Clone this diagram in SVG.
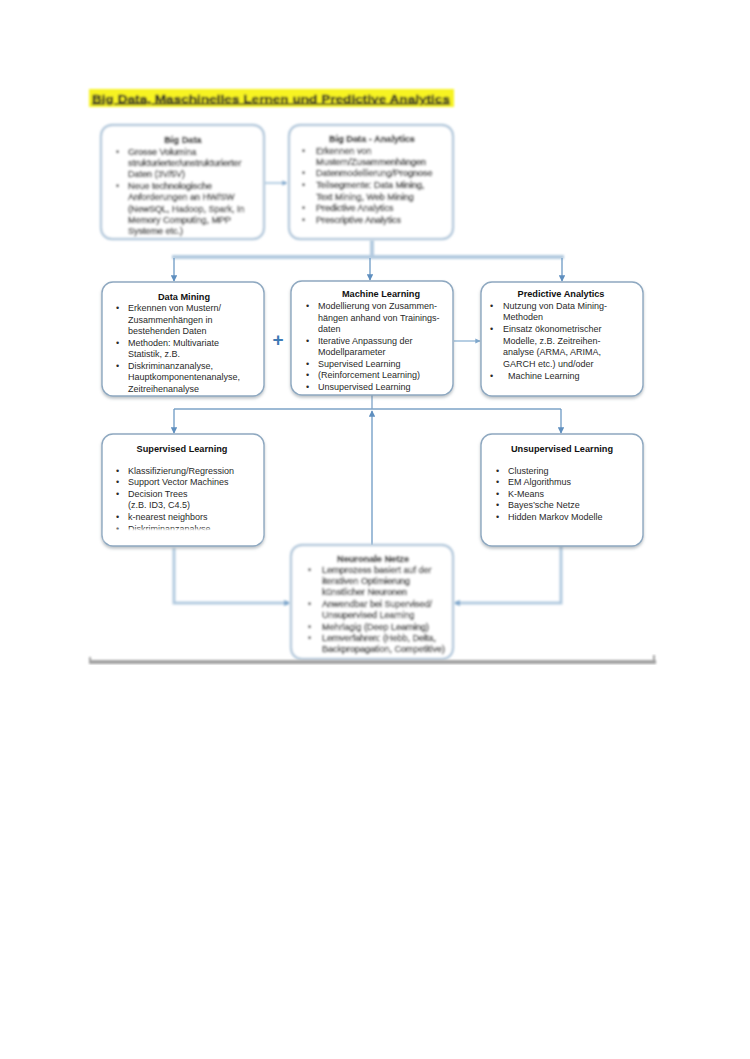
<svg xmlns="http://www.w3.org/2000/svg" width="750" height="1059" viewBox="0 0 750 1059">
<style>
.t{font-family:"Liberation Sans",Arial,sans-serif;font-size:9px;fill:#2a2a2a}
.h{font-family:"Liberation Sans",Arial,sans-serif;font-size:9.2px;font-weight:bold;fill:#111;text-anchor:middle}
.bb .t,.bb .h{fill:#333;stroke:#555;stroke-width:0.35}
.box{fill:#fff;stroke:#8ea8c0;stroke-width:1.4}
.boxl{fill:#fff;stroke:#b4c9dc;stroke-width:2.4}
.c{fill:none;stroke:#6d9ac4;stroke-width:1.3}
.cl{fill:none;stroke:#b3cbe0;stroke-width:3.5}
</style>
<defs>
<filter id="sh" x="-10%" y="-10%" width="120%" height="130%"><feDropShadow dx="0" dy="2" stdDeviation="1.5" flood-color="#6f7a85" flood-opacity="0.45"/></filter>
<filter id="bl" x="-10%" y="-10%" width="120%" height="120%"><feGaussianBlur stdDeviation="1.1"/></filter>
<marker id="a" viewBox="0 0 10 10" refX="9" refY="5" markerWidth="5" markerHeight="5" orient="auto"><path d="M0,0 L10,5 L0,10 z" fill="#5f8fbf"/></marker>
<marker id="al" viewBox="0 0 10 10" refX="9" refY="5" markerWidth="4" markerHeight="4" orient="auto"><path d="M0,0 L10,5 L0,10 z" fill="#7fa7cc"/></marker>
</defs>
<rect width="750" height="1059" fill="#fff"/>

<g id="title" filter="url(#bl)">
<rect x="89" y="89" width="365" height="18" fill="#f7f321"/>
<text x="92" y="102.5" textLength="358" lengthAdjust="spacingAndGlyphs" style="font-family:'Liberation Sans',Arial,sans-serif;font-size:11.5px;font-weight:bold;fill:#222;stroke:#333;stroke-width:0.3;text-decoration:underline">Big Data, Maschinelles Lernen und Predictive Analytics</text>
</g>

<g id="connectors">
<g filter="url(#bl)">
<path class="cl" d="M372,240 V257 M172,257 H564" style="stroke-width:4"/>
<path class="c" d="M264,183 H287" style="stroke:#8fb3d4" marker-end="url(#al)"/>
</g>
<path class="c" d="M174,258 V281" marker-end="url(#a)"/>
<path class="c" d="M370,258 V280" marker-end="url(#a)"/>
<path class="c" d="M562,258 V281" marker-end="url(#a)"/>
<path class="c" d="M454,341 H480" style="stroke:#8fb3d4" marker-end="url(#al)"/>
<path class="c" d="M372,395 V409 M174,409 H561" style="stroke:#7ea4c8"/>
<path class="c" d="M174,409 V433" marker-end="url(#a)"/>
<path class="c" d="M561,409 V433" marker-end="url(#a)"/>
<path class="c" d="M372,545 V411" marker-end="url(#a)"/>
<g filter="url(#bl)">
<path class="cl" d="M174,548 V603 H289" style="stroke-width:3"/>
<path class="cl" d="M561,546 V603 H455" style="stroke-width:3"/>
<path d="M284,600 L291,603 L284,606 z M460,600 L453,603 L460,606 z" fill="#7fa7cc"/>
</g>
<text x="278" y="346" style="font-family:'Liberation Sans',Arial,sans-serif;font-size:19px;font-weight:bold;fill:#3f7bb5;text-anchor:middle">+</text>
</g>

<g id="bigdata" class="bb" filter="url(#bl)">
<rect class="boxl" x="101" y="125" width="163" height="114" rx="11"/>
<text class="h" x="183" y="143">Big Data</text>
<text class="t" x="116" y="155">•</text><text class="t" x="128" y="155">Grosse Volumina</text>
<text class="t" x="128" y="166">strukturierter/unstrukturierter</text>
<text class="t" x="128" y="177">Daten (3V/5V)</text>
<text class="t" x="116" y="189">•</text><text class="t" x="128" y="189">Neue technologische</text>
<text class="t" x="128" y="200">Anforderungen an HW/SW</text>
<text class="t" x="128" y="212">(NewSQL, Hadoop, Spark, In</text>
<text class="t" x="128" y="223">Memory Computing, MPP</text>
<text class="t" x="128" y="234">Systeme etc.)</text>
</g>

<g id="bigdata-analytics" class="bb" filter="url(#bl)">
<rect class="boxl" x="289" y="125" width="164" height="114" rx="11"/>
<text class="h" x="372" y="142">Big Data - Analytics</text>
<text class="t" x="302" y="154">•</text><text class="t" x="316" y="154">Erkennen von</text>
<text class="t" x="316" y="165">Mustern/Zusammenhängen</text>
<text class="t" x="302" y="176">•</text><text class="t" x="316" y="176">Datenmodellierung/Prognose</text>
<text class="t" x="302" y="188">•</text><text class="t" x="316" y="188">Teilsegmente: Data Mining,</text>
<text class="t" x="316" y="200">Text Mining, Web Mining</text>
<text class="t" x="302" y="211">•</text><text class="t" x="316" y="211">Predictive Analytics</text>
<text class="t" x="302" y="223">•</text><text class="t" x="316" y="223">Prescriptive Analytics</text>
</g>

<g id="datamining">
<rect class="box" x="102" y="282" width="162" height="114" rx="11" filter="url(#sh)"/>
<text class="h" x="184" y="300">Data Mining</text>
<text class="t" x="116" y="311">•</text><text class="t" x="128" y="311">Erkennen von Mustern/</text>
<text class="t" x="128" y="323">Zusammenhängen  in</text>
<text class="t" x="128" y="334">bestehenden  Daten</text>
<text class="t" x="116" y="346">•</text><text class="t" x="128" y="346">Methoden:  Multivariate</text>
<text class="t" x="128" y="357">Statistik,  z.B.</text>
<text class="t" x="116" y="369">•</text><text class="t" x="128" y="369">Diskriminanzanalyse,</text>
<text class="t" x="128" y="380">Hauptkomponentenanalyse,</text>
<text class="t" x="128" y="392">Zeitreihenanalyse</text>
</g>

<g id="machinelearning">
<rect class="box" x="291" y="281" width="162" height="114" rx="11" filter="url(#sh)"/>
<text class="h" x="381" y="297">Machine  Learning</text>
<text class="t" x="306" y="309">•</text><text class="t" x="318" y="309">Modellierung  von  Zusammen-</text>
<text class="t" x="318" y="321">hängen anhand von Trainings-</text>
<text class="t" x="318" y="332">daten</text>
<text class="t" x="306" y="344">•</text><text class="t" x="318" y="344">Iterative  Anpassung  der</text>
<text class="t" x="318" y="355">Modellparameter</text>
<text class="t" x="306" y="367">•</text><text class="t" x="318" y="367">Supervised  Learning</text>
<text class="t" x="306" y="378">•</text><text class="t" x="318" y="378">(Reinforcement Learning)</text>
<text class="t" x="306" y="390">•</text><text class="t" x="318" y="390">Unsupervised  Learning</text>
</g>

<g id="predictive">
<rect class="box" x="481" y="282" width="162" height="114" rx="11" filter="url(#sh)"/>
<text class="h" x="561" y="297">Predictive Analytics</text>
<text class="t" x="490" y="309">•</text><text class="t" x="503" y="309">Nutzung von Data Mining-</text>
<text class="t" x="503" y="320">Methoden</text>
<text class="t" x="490" y="332">•</text><text class="t" x="503" y="332">Einsatz  ökonometrischer</text>
<text class="t" x="503" y="344">Modelle,  z.B. Zeitreihen-</text>
<text class="t" x="503" y="355">analyse (ARMA,  ARIMA,</text>
<text class="t" x="503" y="367">GARCH  etc.) und/oder</text>
<text class="t" x="490" y="379">•</text><text class="t" x="508" y="379">Machine Learning</text>
</g>

<g id="supervised">
<rect class="box" x="102" y="434" width="162" height="112" rx="11" filter="url(#sh)"/>
<text class="h" x="182" y="452">Supervised  Learning</text>
<text class="t" x="116" y="474">•</text><text class="t" x="128" y="474">Klassifizierung/Regression</text>
<text class="t" x="116" y="485">•</text><text class="t" x="128" y="485">Support Vector Machines</text>
<text class="t" x="116" y="497">•</text><text class="t" x="128" y="497">Decision Trees</text>
<text class="t" x="128" y="508">(z.B. ID3, C4.5)</text>
<text class="t" x="116" y="520">•</text><text class="t" x="128" y="520">k-nearest neighbors</text>
<text class="t" x="116" y="532">•</text><text class="t" x="128" y="532">Diskriminanzanalyse</text>
<rect x="104" y="529" width="158" height="12" fill="#fff" filter="url(#bl)"/>
<path d="M106,542 H260" stroke="#c9d1d8" stroke-width="4" filter="url(#bl)"/>
</g>

<g id="unsupervised">
<rect class="box" x="481" y="434" width="162" height="112" rx="11" filter="url(#sh)"/>
<text class="h" x="562" y="452">Unsupervised  Learning</text>
<text class="t" x="496" y="474">•</text><text class="t" x="508" y="474">Clustering</text>
<text class="t" x="496" y="485">•</text><text class="t" x="508" y="485">EM  Algorithmus</text>
<text class="t" x="496" y="497">•</text><text class="t" x="508" y="497">K-Means</text>
<text class="t" x="496" y="508">•</text><text class="t" x="508" y="508">Bayes’sche Netze</text>
<text class="t" x="496" y="520">•</text><text class="t" x="508" y="520">Hidden  Markov  Modelle</text>
<path d="M485,541 H639" stroke="#c9d1d8" stroke-width="4" filter="url(#bl)"/>
</g>

<g id="neuronalenetze" class="bb" filter="url(#bl)">
<rect class="boxl" x="291" y="545" width="162" height="114" rx="11"/>
<text class="h" x="373" y="562">Neuronale Netze</text>
<text class="t" x="308" y="573">•</text><text class="t" x="322" y="573">Lernprozess  basiert auf der</text>
<text class="t" x="322" y="584">iterativen  Optimierung</text>
<text class="t" x="322" y="595">künstlicher  Neuronen</text>
<text class="t" x="308" y="607">•</text><text class="t" x="322" y="607">Anwendbar  bei Supervised/</text>
<text class="t" x="322" y="618">Unsupervised  Learning</text>
<text class="t" x="308" y="630">•</text><text class="t" x="322" y="630">Mehrlagig  (Deep Learning)</text>
<text class="t" x="308" y="641">•</text><text class="t" x="322" y="641">Lernverfahren:  (Hebb,  Delta,</text>
<text class="t" x="322" y="652">Backpropagation,  Competitive)</text>
</g>

<g id="bottombar" filter="url(#bl)">
<rect x="89" y="660" width="567" height="4" fill="#a3a3a3"/>
<rect x="89" y="657" width="2" height="7" fill="#a3a3a3"/>
<rect x="653" y="655" width="2" height="9" fill="#a3a3a3"/>
</g>
</svg>
